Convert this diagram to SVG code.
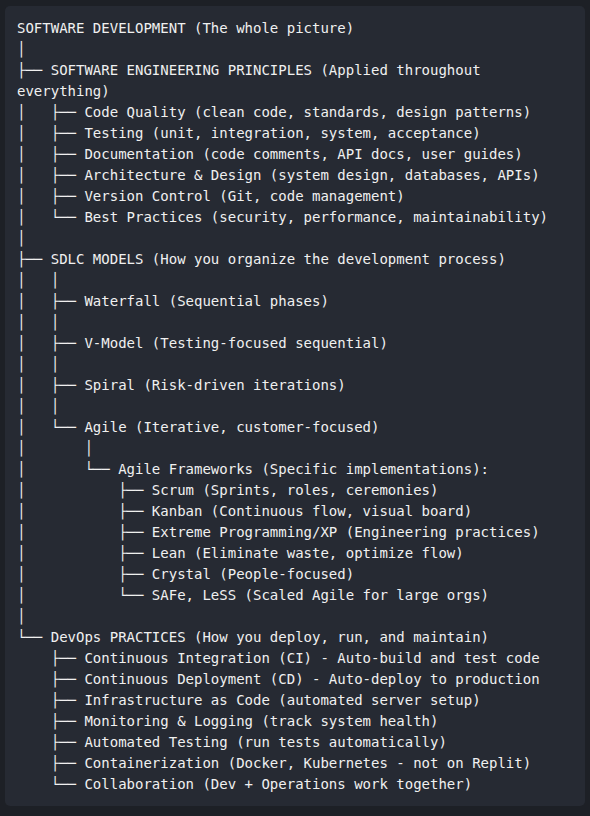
<svg xmlns="http://www.w3.org/2000/svg" width="590" height="816" viewBox="0 0 590 816">
<style>
text{font-family:"DejaVu Sans Mono","Liberation Mono",monospace;font-size:14px;fill:#f0f0f0;white-space:pre}
</style>
<rect x="0" y="0" width="590" height="816" fill="#1d2026"/>
<rect x="5" y="6" width="580" height="800" rx="5" fill="#262a33"/>
<g id="tree" xml:space="preserve">
<text x="17" y="33">SOFTWARE DEVELOPMENT (The whole picture)</text>
<text x="17" y="54">│</text>
<text x="17" y="75">├── SOFTWARE ENGINEERING PRINCIPLES (Applied throughout</text>
<text x="17" y="96">everything)</text>
<text x="17" y="117">│   ├── Code Quality (clean code, standards, design patterns)</text>
<text x="17" y="138">│   ├── Testing (unit, integration, system, acceptance)</text>
<text x="17" y="159">│   ├── Documentation (code comments, API docs, user guides)</text>
<text x="17" y="180">│   ├── Architecture &amp; Design (system design, databases, APIs)</text>
<text x="17" y="201">│   ├── Version Control (Git, code management)</text>
<text x="17" y="222">│   └── Best Practices (security, performance, maintainability)</text>
<text x="17" y="243">│</text>
<text x="17" y="264">├── SDLC MODELS (How you organize the development process)</text>
<text x="17" y="285">│   │</text>
<text x="17" y="306">│   ├── Waterfall (Sequential phases)</text>
<text x="17" y="327">│   │</text>
<text x="17" y="348">│   ├── V-Model (Testing-focused sequential)</text>
<text x="17" y="369">│   │</text>
<text x="17" y="390">│   ├── Spiral (Risk-driven iterations)</text>
<text x="17" y="411">│   │</text>
<text x="17" y="432">│   └── Agile (Iterative, customer-focused)</text>
<text x="17" y="453">│       │</text>
<text x="17" y="474">│       └── Agile Frameworks (Specific implementations):</text>
<text x="17" y="495">│           ├── Scrum (Sprints, roles, ceremonies)</text>
<text x="17" y="516">│           ├── Kanban (Continuous flow, visual board)</text>
<text x="17" y="537">│           ├── Extreme Programming/XP (Engineering practices)</text>
<text x="17" y="558">│           ├── Lean (Eliminate waste, optimize flow)</text>
<text x="17" y="579">│           ├── Crystal (People-focused)</text>
<text x="17" y="600">│           └── SAFe, LeSS (Scaled Agile for large orgs)</text>
<text x="17" y="621">│</text>
<text x="17" y="642">└── DevOps PRACTICES (How you deploy, run, and maintain)</text>
<text x="17" y="663">    ├── Continuous Integration (CI) - Auto-build and test code</text>
<text x="17" y="684">    ├── Continuous Deployment (CD) - Auto-deploy to production</text>
<text x="17" y="705">    ├── Infrastructure as Code (automated server setup)</text>
<text x="17" y="726">    ├── Monitoring &amp; Logging (track system health)</text>
<text x="17" y="747">    ├── Automated Testing (run tests automatically)</text>
<text x="17" y="768">    ├── Containerization (Docker, Kubernetes - not on Replit)</text>
<text x="17" y="789">    └── Collaboration (Dev + Operations work together)</text>
</g>
</svg>
